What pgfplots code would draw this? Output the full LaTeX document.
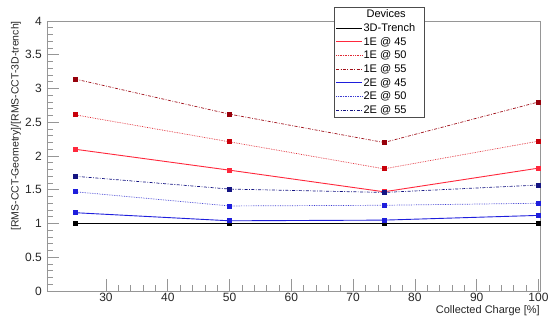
\documentclass[border=0pt]{standalone}
\usepackage{fontspec}
\setmainfont{Liberation Sans}
\usepackage{pgfplots}
\pgfplotsset{compat=1.18}
\definecolor{axgray}{RGB}{150,150,150}
\definecolor{r45}{RGB}{255,40,60}
\definecolor{r50}{RGB}{225,40,50}
\definecolor{r55}{RGB}{160,15,25}
\definecolor{m50}{RGB}{200,0,10}
\definecolor{m55}{RGB}{150,0,10}
\definecolor{b45}{RGB}{30,30,220}
\definecolor{b50}{RGB}{60,60,210}
\definecolor{b55}{RGB}{20,20,130}
\begin{document}
\begin{tikzpicture}
\begin{axis}[
  name=ax,
  at={(0,0)}, anchor=south west,
  scale only axis,
  width=493pt, height=270pt,
  xmin=20.45, xmax=100.25,
  ymin=0, ymax=4,
  xtick={30,40,...,100},
  ytick={0,0.5,...,4},
  minor x tick num=4,
  minor y tick num=4,
  tick align=inside,
  xtick pos=bottom, ytick pos=left,
  major tick length=12pt,
  minor tick length=6pt,
  axis line style={axgray, line width=0.6pt},
  every tick/.style={axgray, line width=0.6pt},
  /pgf/number format/assume math mode=true,
  ticklabel style={font=\fontsize{12}{12}\selectfont, text=black!85},
  yticklabel style={anchor=east, inner sep=0pt, xshift=-5pt},
  xticklabel style={anchor=north, inner sep=0pt, yshift=-2pt},
  xlabel={Collected Charge [\%]},
  ylabel={[RMS-CCT-Geometry]/[RMS-CCT-3D-trench]},
  xlabel style={at={(axis description cs:1,-0.052)}, anchor=north east, inner sep=0pt, font=\fontsize{11}{12}\selectfont, text=black!85},
  ylabel style={at={(axis description cs:-0.0527,1)}, anchor=south east, inner sep=0pt, font=\fontsize{10.5}{12}\selectfont, text=black!85},
  legend cell align=left,
  legend image code/.code={\path (0pt,0pt) -- (26pt,0pt);\draw[#1,mark=none] (0pt,0pt) -- (18pt,0pt);},
  legend style={at={(rel axis cs:0.582,1.052)}, anchor=north west,
    draw=black!70, line width=0.6pt, fill=white,
    font=\fontsize{11}{12}\selectfont,
    row sep=2.2pt, inner sep=1.5pt,
    nodes={inner sep=1pt}},
]
\addlegendimage{empty legend}
\addlegendentry{\makebox[58pt][l]{\hspace*{3pt}Devices}}
\addplot[color=black, line width=0.9pt, mark=square*, mark size=2pt, mark options={solid, fill=black}] coordinates {(25,1.0)(50,1.0)(75,1.0)(100,1.0)};
\addlegendentry{3D-Trench}
\addplot[color=r45, line width=0.9pt, mark=square*, mark size=2pt, mark options={solid, fill=r45}] coordinates {(25,2.10)(50,1.79)(75,1.47)(100,1.82)};
\addlegendentry{1E @ 45}
\addplot[color=r50, line width=0.7pt, densely dotted, mark=square*, mark size=2pt, mark options={solid, fill=m50, draw=m50}] coordinates {(25,2.61)(50,2.21)(75,1.81)(100,2.22)};
\addlegendentry{1E @ 50}
\addplot[color=r55, line width=0.7pt, dash pattern=on 3pt off 1.5pt on 0.8pt off 1.5pt, mark=square*, mark size=2pt, mark options={solid, fill=m55, draw=m55}] coordinates {(25,3.14)(50,2.62)(75,2.20)(100,2.80)};
\addlegendentry{1E @ 55}
\addplot[color=b45, line width=0.9pt, mark=square*, mark size=2pt, mark options={solid, fill=b45}] coordinates {(25,1.16)(50,1.04)(75,1.05)(100,1.12)};
\addlegendentry{2E @ 45}
\addplot[color=b50, line width=0.7pt, densely dotted, mark=square*, mark size=2pt, mark options={solid, fill=b45, draw=b45}] coordinates {(25,1.47)(50,1.26)(75,1.27)(100,1.30)};
\addlegendentry{2E @ 50}
\addplot[color=b55, line width=0.7pt, dash pattern=on 3pt off 1.5pt on 0.8pt off 1.5pt, mark=square*, mark size=2pt, mark options={solid, fill=b55, draw=b55}] coordinates {(25,1.70)(50,1.51)(75,1.46)(100,1.57)};
\addlegendentry{2E @ 55}
\end{axis}
\pgfresetboundingbox
\path[use as bounding box] ([shift={(-47pt,-30pt)}]ax.south west) rectangle ([shift={(503pt,291pt)}]ax.south west);
\end{tikzpicture}
\end{document}
